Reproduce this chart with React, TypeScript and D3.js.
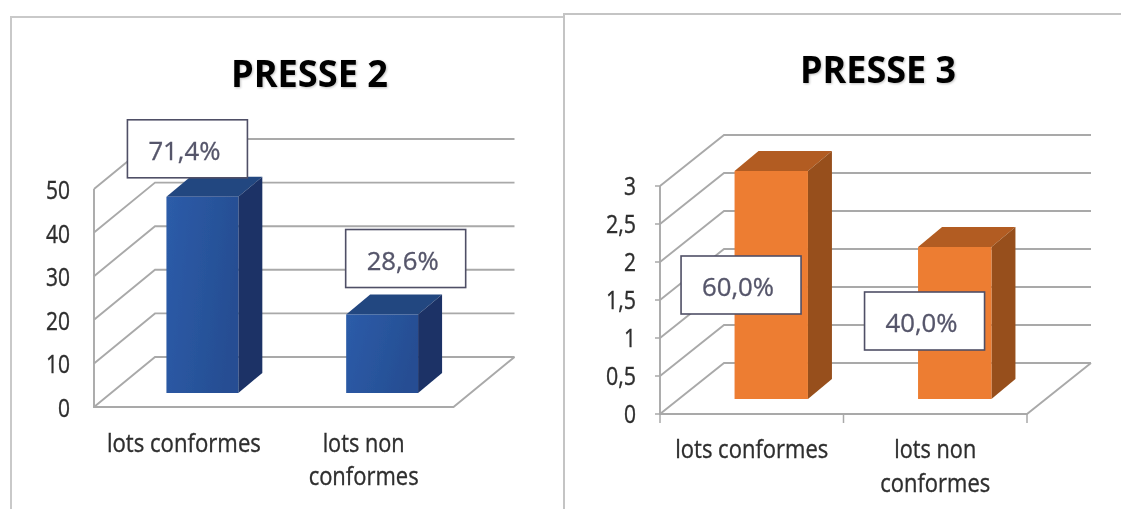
import React from "react";
import * as d3 from "d3";

const categories = ["lots conformes", "lots non conformes"];
const presse2Values = [45, 18];
const presse3Values = [3, 2];
const presse2Labels = ["71,4%", "28,6%"];
const presse3Labels = ["60,0%", "40,0%"];
const presse2Ticks = [0, 10, 20, 30, 40, 50];
const presse3Ticks = [0, 0.5, 1, 1.5, 2, 2.5, 3];

const FONT = "'Open Sans', sans-serif";
const GRID = "#a9a9a9";
const INK = "#2e2e2e";

type Panel = {
  id: string; title: string; titleX: [number, number]; titleY: number;
  values: number[]; labels: string[]; ticks: number[]; max: number;
  x0: number; x1: number; y0: number; yTop: number;
  wallDx: number; wallDy: number; barShift: number; barBase: number;
  tickRight: number; tickDy: number; tickMarks: boolean;
  catLine1: number; catLine2: number;
  boxes: [number, number][]; fronts: string[]; front: string; side: string; top: string; gradient: boolean;
  catWidths: number[][];
};

const panels: Panel[] = [
  {
    id: "p2", title: "PRESSE 2", titleX: [231, 388], titleY: 87,
    values: presse2Values, labels: presse2Labels, ticks: presse2Ticks, max: 50,
    x0: 94, x1: 453.5, y0: 407, yTop: 189, wallDx: 61, wallDy: 50, barShift: 18.5, barBase: 393,
    tickRight: 70, tickDy: 10, tickMarks: false, catLine1: 452, catLine2: 485,
    boxes: [[-39, -77], [-0.5, -85]],
    fronts: ["#2d5ca9", "#254e93"], front: "#2b5aa5", side: "#1a3366", top: "#234680", gradient: true,
    catWidths: [[154], [82, 110]],
  },
  {
    id: "p3", title: "PRESSE 3", titleX: [800, 956], titleY: 83,
    values: presse3Values, labels: presse3Labels, ticks: presse3Ticks, max: 3,
    x0: 660, x1: 1027, y0: 414, yTop: 186, wallDx: 64, wallDy: 51, barShift: 19.5, barBase: 399,
    tickRight: 636, tickDy: 9, tickMarks: true, catLine1: 458, catLine2: 492,
    boxes: [[-53.5, 85], [-53.5, 45]],
    fronts: ["#ed7d31", "#ed7d31"], front: "#ed7d31", side: "#97501c", top: "#b25c20", gradient: false,
    catWidths: [[153], [82, 110]],
  },
];

const poly = d3.line<[number, number]>().curve(d3.curveLinearClosed);
const seg = d3.line<[number, number]>();

function Chart({ p }: { p: Panel }) {
  const yFront = d3.scaleLinear().domain([0, p.max]).range([p.y0, p.yTop]);
  const yBar = d3.scaleLinear().domain([0, p.max]).range([p.barBase, p.barBase - (p.y0 - p.yTop)]);
  const xAxis = d3.scaleBand<string>().domain(categories).range([p.x0, p.x1]);
  const xBar = d3.scaleBand<string>().domain(categories)
    .range([p.x0 + p.barShift, p.x1 + p.barShift]).paddingInner(0.6).paddingOuter(0.3);
  const bw = xBar.bandwidth();
  const bdx = 24, bdy = 20;
  const { x0, x1, y0, wallDx: dx, wallDy: dy } = p;
  const fmt = (t: number) => String(t).replace(".", ",");
  const ink = { stroke: INK, strokeWidth: 0.35 };

  return (
    <g>
      <defs>
        <linearGradient id={`${p.id}-g`} x1="0" y1="0" x2="1" y2="0.3">
          <stop offset="0" stopColor={p.fronts[0]} />
          <stop offset="1" stopColor={p.fronts[1]} />
        </linearGradient>
      </defs>
      <g filter="url(#soft)">
        {p.ticks.map((t) => {
          const y = yFront(t);
          return (
            <g key={t}>
              <path d={seg([[x0, y], [x0 + dx, y - dy], [x1 + dx, y - dy]]) ?? ""} fill="none" stroke={GRID} strokeWidth={1.9} />
              {p.tickMarks && <path d={seg([[x0 - 5, y], [x0, y]]) ?? ""} stroke={GRID} strokeWidth={1.5} />}
              <text x={p.tickRight} y={y + p.tickDy} textAnchor="end" fontFamily={FONT} fontSize={25} fill={INK} {...ink}
                textLength={fmt(t).length > 1 ? (fmt(t).length === 3 ? 30 : 24) : 12} lengthAdjust="spacingAndGlyphs">{fmt(t)}</text>
            </g>
          );
        })}
        <path d={seg([[x0, yFront(p.max)], [x0, y0], [x1, y0], [x1 + dx, y0 - dy]]) ?? ""} fill="none" stroke={GRID} strokeWidth={1.9} />
        {p.tickMarks && [x0, xAxis(categories[1])!, x1].map((x) => (
          <path key={x} d={seg([[x, y0], [x, y0 + 9]]) ?? ""} stroke={GRID} strokeWidth={1.5} />
        ))}
        {categories.map((c, i) => {
          const x = xAxis(c)! + xAxis.bandwidth() / 2;
          const lines = i === 0 ? [c] : ["lots non", "conformes"];
          return lines.map((l, j) => (
            <text key={l} x={x} y={j === 0 ? p.catLine1 : p.catLine2} textAnchor="middle" fontFamily={FONT} fontSize={25} fill={INK} {...ink}
              textLength={p.catWidths[i][j]} lengthAdjust="spacingAndGlyphs">{l}</text>
          ));
        })}
        {p.values.map((v, i) => {
          const x = xBar(categories[i])!;
          const yt = yBar(v), yb = p.barBase;
          return (
            <g key={i}>
              <path d={poly([[x, yt], [x + bdx, yt - bdy], [x + bw + bdx, yt - bdy], [x + bw, yt]]) ?? ""} fill={p.top} />
              <path d={poly([[x + bw, yt], [x + bw + bdx, yt - bdy], [x + bw + bdx, yb - bdy], [x + bw, yb]]) ?? ""} fill={p.side} />
              <rect x={x} y={yt} width={bw} height={yb - yt} fill={p.gradient ? `url(#${p.id}-g)` : p.front} />
            </g>
          );
        })}
        {p.values.map((v, i) => {
          const bx = xBar(categories[i])! + p.boxes[i][0];
          const by = yBar(v) + p.boxes[i][1];
          return (
            <g key={i}>
              <rect x={bx} y={by} width={120} height={58} fill="#fff" stroke="#4f4f66" strokeWidth={1.6} />
              <text x={bx + 57} y={by + 40} textAnchor="middle" fontFamily={FONT} fontSize={25} fill="#55556a" stroke="#55556a" strokeWidth={0.3}
                textLength={72} lengthAdjust="spacingAndGlyphs">{p.labels[i]}</text>
            </g>
          );
        })}
      </g>
      <text x={(p.titleX[0] + p.titleX[1]) / 2} y={p.titleY} textAnchor="middle" fontFamily={FONT} fontWeight={700} fontSize={38}
        fill="#000" filter="url(#shadow)" textLength={p.titleX[1] - p.titleX[0]} lengthAdjust="spacingAndGlyphs">{p.title}</text>
    </g>
  );
}

export default function App() {
  return (
    <svg width={1121} height={509} viewBox="0 0 1121 509"
      style={{ position: "absolute", left: 0, top: 0, display: "block", background: "#fff" }}>
      <defs>
        <filter id="soft" x="-5%" y="-5%" width="110%" height="110%"><feGaussianBlur stdDeviation="0.45" /></filter>
        <filter id="shadow" x="-10%" y="-20%" width="120%" height="140%">
          <feDropShadow dx="1" dy="1" stdDeviation="0.8" floodColor="#000" floodOpacity="0.25" />
        </filter>
      </defs>
      <path d={seg([[11, 509], [11, 17], [564, 17]]) ?? ""} fill="none" stroke="#c9c9c9" strokeWidth={2} />
      <path d={seg([[564, 509], [564, 14], [1121, 14]]) ?? ""} fill="none" stroke="#c4c4c4" strokeWidth={2} />
      {panels.map((p) => <Chart key={p.id} p={p} />)}
    </svg>
  );
}
